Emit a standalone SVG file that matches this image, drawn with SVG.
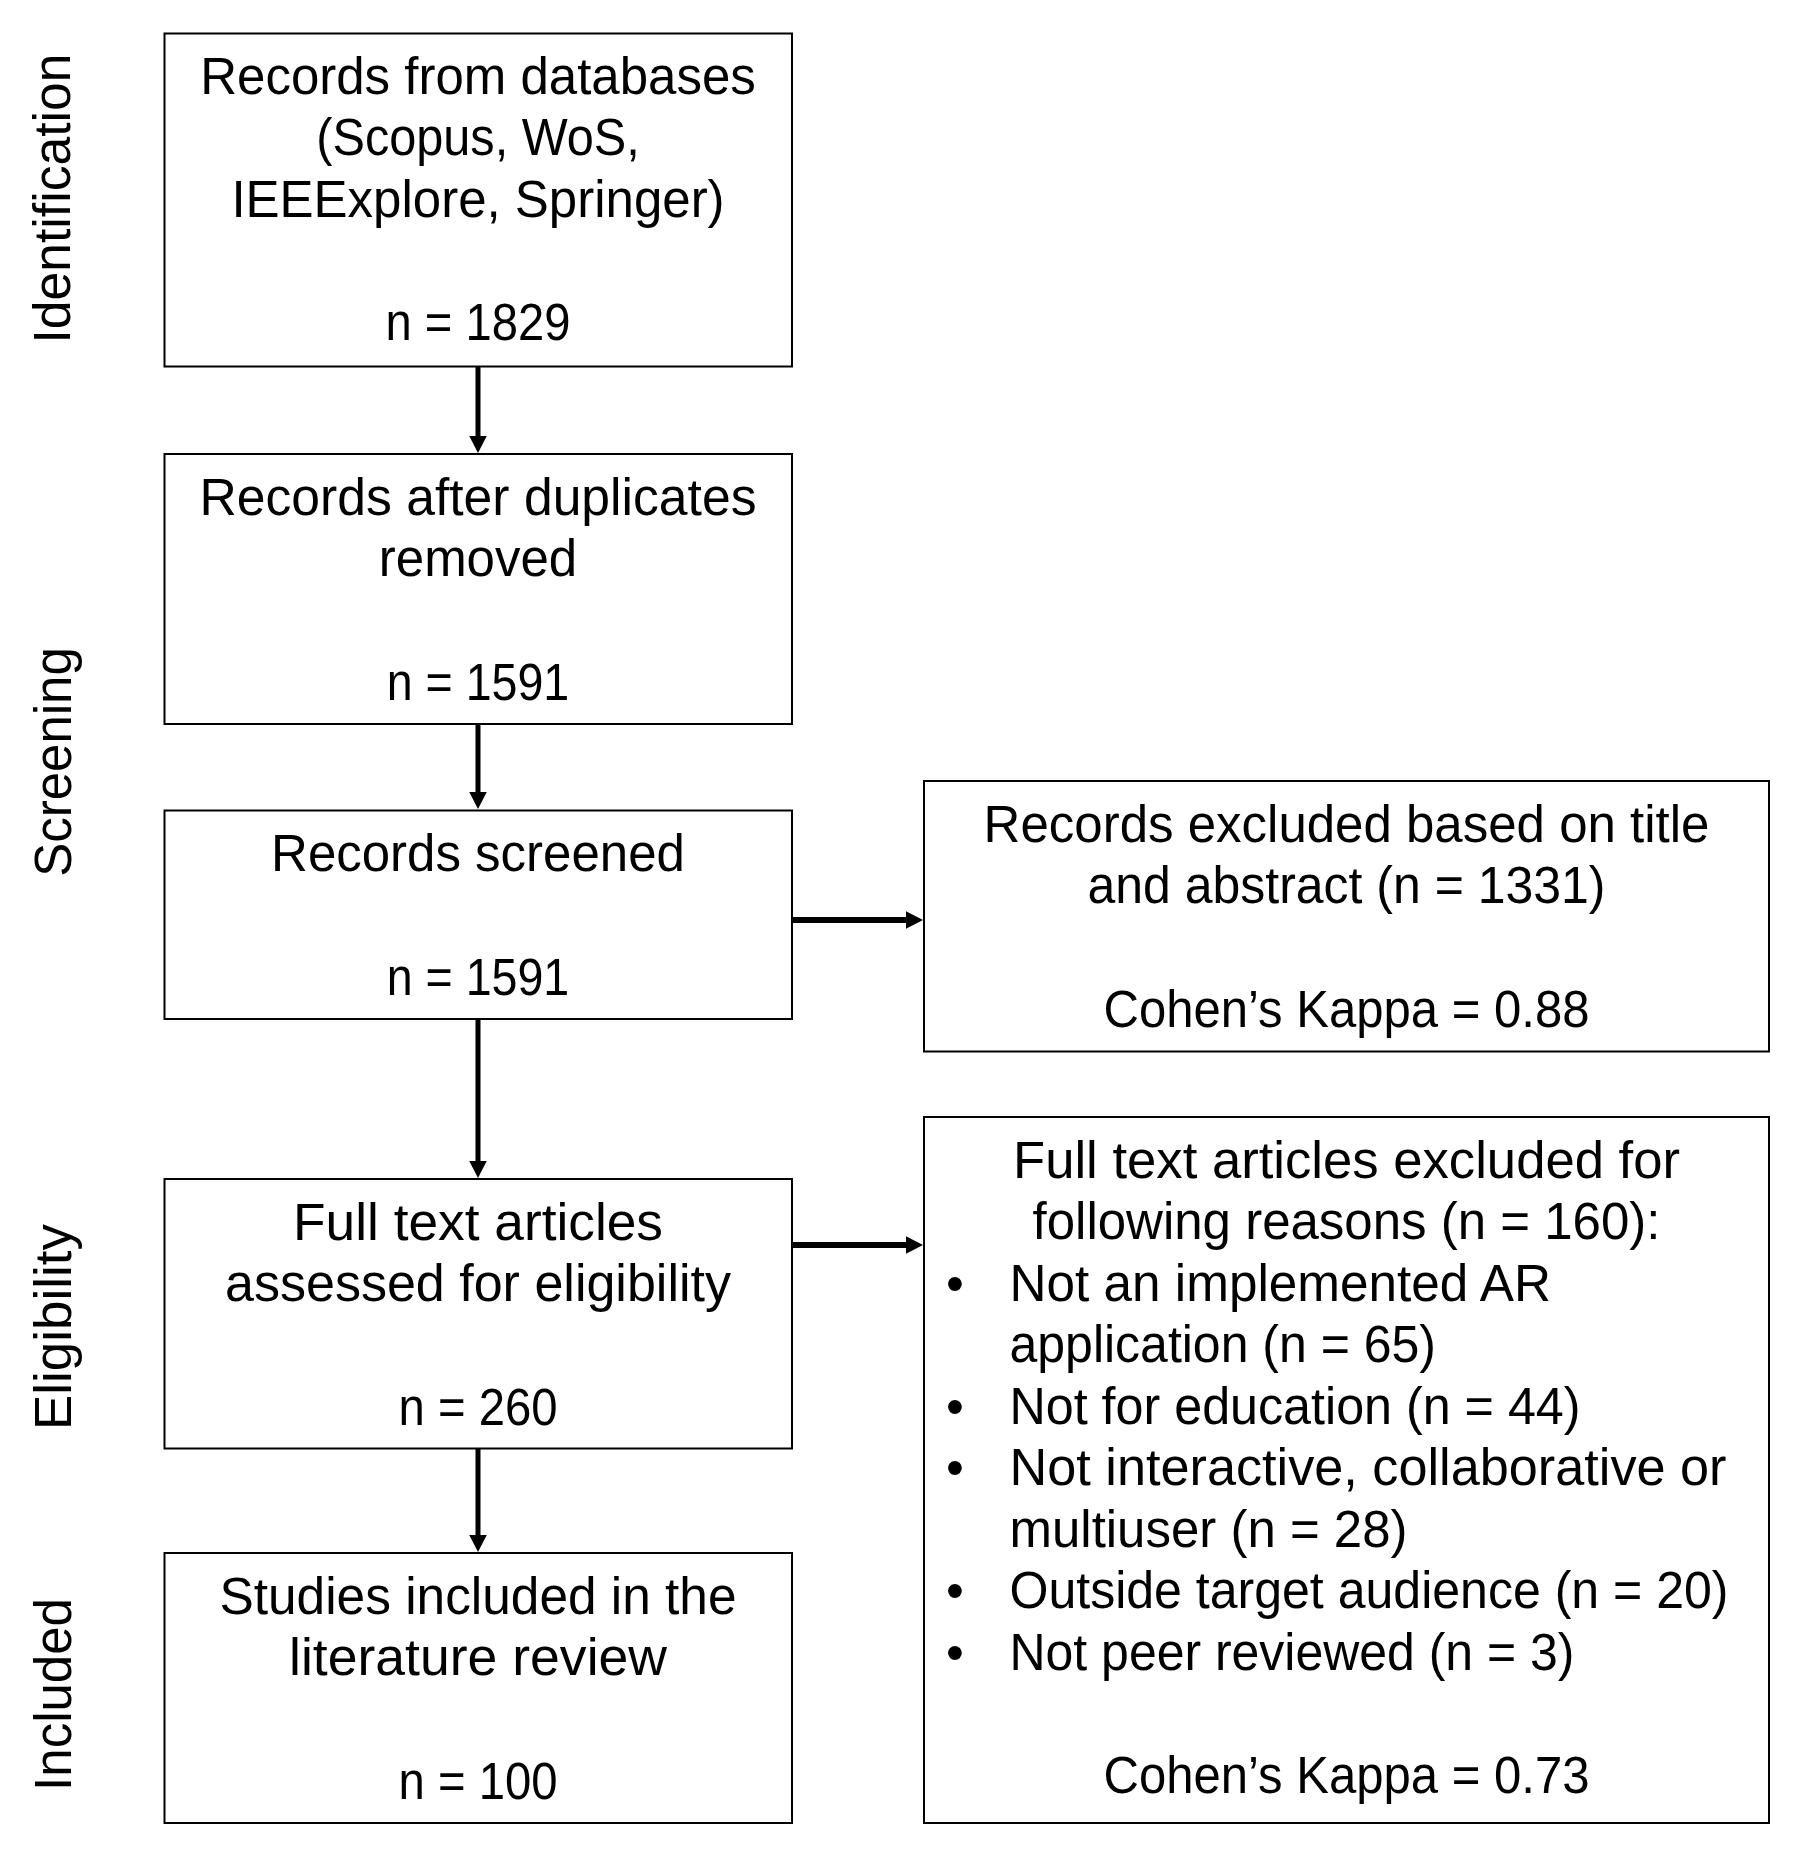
<svg xmlns="http://www.w3.org/2000/svg" width="1800" height="1858" viewBox="0 0 1800 1858">
<defs>
<style>
.box{fill:#fff;stroke:#000;stroke-width:2}
.t{font-family:"Liberation Sans",Arial,sans-serif;font-size:51px;fill:#000}
.c{text-anchor:middle}
.lbl{font-family:"Liberation Sans",Arial,sans-serif;font-size:51px;fill:#000;text-anchor:middle}
.v{stroke:#000;stroke-width:5;fill:none}
.h{stroke:#000;stroke-width:6;fill:none}
</style>
<marker id="ah" markerUnits="userSpaceOnUse" markerWidth="18" markerHeight="18" refX="1" refY="8.75" orient="auto">
<path d="M0,0 L17,8.75 L0,17.5 z" fill="#000"/>
</marker>
</defs>
<rect width="1800" height="1858" fill="#fff"/>

<g id="stage-labels">
<text class="lbl" transform="translate(70,198.5) rotate(-90)" textLength="290" lengthAdjust="spacingAndGlyphs">Identification</text>
<text class="lbl" transform="translate(71,762) rotate(-90)">Screening</text>
<text class="lbl" transform="translate(71,1327) rotate(-90)" textLength="206" lengthAdjust="spacingAndGlyphs">Eligibility</text>
<text class="lbl" transform="translate(71,1694.5) rotate(-90)">Included</text>
</g>

<g id="connectors">
<path class="v" d="M478,367 L478,437" marker-end="url(#ah)"/>
<path class="v" d="M478,724 L478,793" marker-end="url(#ah)"/>
<path class="v" d="M478,1019 L478,1162" marker-end="url(#ah)"/>
<path class="v" d="M478,1448 L478,1536" marker-end="url(#ah)"/>
<path class="h" d="M792,920 L907,920" marker-end="url(#ah)"/>
<path class="h" d="M792,1245 L907,1245" marker-end="url(#ah)"/>
</g>

<g id="node-records-databases">
<rect class="box" x="164.5" y="33.5" width="627.5" height="333"/>
<text class="t c" x="478" y="93.5">Records from databases</text>
<text class="t c" x="478" y="155.1" textLength="323.5" lengthAdjust="spacingAndGlyphs">(Scopus, WoS,</text>
<text class="t c" x="478" y="216.7">IEEExplore, Springer)</text>
<text class="t c" x="478" y="340.3" textLength="185" lengthAdjust="spacingAndGlyphs">n = 1829</text>
</g>

<g id="node-after-duplicates">
<rect class="box" x="164.5" y="454" width="627.5" height="270"/>
<text class="t c" x="478" y="514.5" textLength="557" lengthAdjust="spacingAndGlyphs">Records after duplicates</text>
<text class="t c" x="478" y="576.1">removed</text>
<text class="t c" x="478" y="699.5" textLength="182.5" lengthAdjust="spacingAndGlyphs">n = 1591</text>
</g>

<g id="node-screened">
<rect class="box" x="164.5" y="810.5" width="627.5" height="208.5"/>
<text class="t c" x="478" y="871">Records screened</text>
<text class="t c" x="478" y="994.5" textLength="182.5" lengthAdjust="spacingAndGlyphs">n = 1591</text>
</g>

<g id="node-full-text-assessed">
<rect class="box" x="164.5" y="1179" width="627.5" height="269.5"/>
<text class="t c" x="478" y="1239.5" textLength="370" lengthAdjust="spacingAndGlyphs">Full text articles</text>
<text class="t c" x="478" y="1301.1" textLength="506" lengthAdjust="spacingAndGlyphs">assessed for eligibility</text>
<text class="t c" x="478" y="1424.5" textLength="159" lengthAdjust="spacingAndGlyphs">n = 260</text>
</g>

<g id="node-included">
<rect class="box" x="164.5" y="1553" width="627.5" height="270"/>
<text class="t c" x="478" y="1613.5" textLength="517" lengthAdjust="spacingAndGlyphs">Studies included in the</text>
<text class="t c" x="478" y="1675.1" textLength="378" lengthAdjust="spacingAndGlyphs">literature review</text>
<text class="t c" x="478" y="1798.5" textLength="159" lengthAdjust="spacingAndGlyphs">n = 100</text>
</g>

<g id="node-excluded-title-abstract">
<rect class="box" x="924" y="781" width="845" height="270.5"/>
<text class="t c" x="1346.5" y="841.5">Records excluded based on title</text>
<text class="t c" x="1346.5" y="903.1" textLength="518" lengthAdjust="spacingAndGlyphs">and abstract (n = 1331)</text>
<text class="t c" x="1346.5" y="1026.5" textLength="486" lengthAdjust="spacingAndGlyphs">Cohen’s Kappa = 0.88</text>
</g>

<g id="node-excluded-full-text">
<rect class="box" x="924" y="1117" width="845" height="706"/>
<text class="t c" x="1346.5" y="1177.5" textLength="667" lengthAdjust="spacingAndGlyphs">Full text articles excluded for</text>
<text class="t c" x="1346.5" y="1239">following reasons (n = 160):</text>
<text class="t c" x="955" y="1300.5">•</text>
<text class="t" x="1009.5" y="1300.5" textLength="541.5" lengthAdjust="spacingAndGlyphs">Not an implemented AR</text>
<text class="t" x="1009.5" y="1362" textLength="426.5" lengthAdjust="spacingAndGlyphs">application (n = 65)</text>
<text class="t c" x="955" y="1423.5">•</text>
<text class="t" x="1009.5" y="1423.5" textLength="571" lengthAdjust="spacingAndGlyphs">Not for education (n = 44)</text>
<text class="t c" x="955" y="1485">•</text>
<text class="t" x="1009.5" y="1485" textLength="717" lengthAdjust="spacingAndGlyphs">Not interactive, collaborative or</text>
<text class="t" x="1009.5" y="1546.5" textLength="398" lengthAdjust="spacingAndGlyphs">multiuser (n = 28)</text>
<text class="t c" x="955" y="1608">•</text>
<text class="t" x="1009.5" y="1608" textLength="719" lengthAdjust="spacingAndGlyphs">Outside target audience (n = 20)</text>
<text class="t c" x="955" y="1669.5">•</text>
<text class="t" x="1009.5" y="1669.5" textLength="565" lengthAdjust="spacingAndGlyphs">Not peer reviewed (n = 3)</text>
<text class="t c" x="1346.5" y="1792.5" textLength="486" lengthAdjust="spacingAndGlyphs">Cohen’s Kappa = 0.73</text>
</g>
</svg>
